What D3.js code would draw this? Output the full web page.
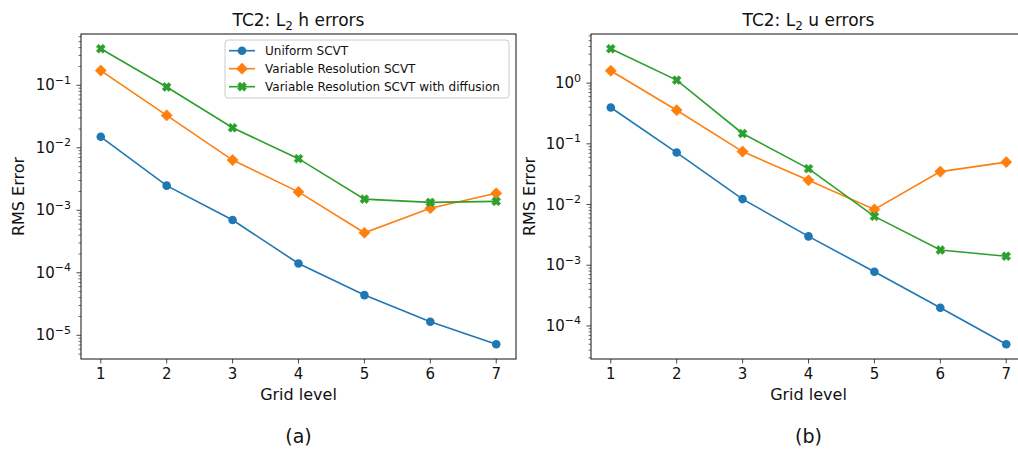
<!DOCTYPE html>
<html>
<head>
<meta charset="utf-8">
<script src="https://cdn.jsdelivr.net/npm/d3@7"></script>
<style>
  body { margin: 0; background: #fff; }
  svg { display: block; font-family: "DejaVu Sans", sans-serif; }
</style>
</head>
<body>
<script>
// grid levels on the x axis
var levels = [1, 2, 3, 4, 5, 6, 7];
var seriesNames = ['Uniform SCVT', 'Variable Resolution SCVT', 'Variable Resolution SCVT with diffusion'];
var colors = ['#1f77b4', '#ff7f0e', '#2ca02c'];

// TC2 L2 h errors
var hUniform = [0.0150, 0.00248, 0.00070, 0.000141, 0.0000440, 0.0000165, 0.0000072];
var hVariable = [0.172, 0.0330, 0.00636, 0.00197, 0.000437, 0.00108, 0.00187];
var hVariableDiff = [0.384, 0.094, 0.0209, 0.0067, 0.00151, 0.00134, 0.00139];

// TC2 L2 u errors
var uUniform = [0.397, 0.0718, 0.0123, 0.00299, 0.00078, 0.000200, 0.0000500];
var uVariable = [1.60, 0.358, 0.0746, 0.0251, 0.0083, 0.0349, 0.0500];
var uVariableDiff = [3.68, 1.12, 0.148, 0.039, 0.00638, 0.00178, 0.00141];

var yTicksH = [-5, -4, -3, -2, -1];
var yTicksU = [-4, -3, -2, -1, 0];

var svg = d3.select('body').append('svg')
  .attr('width', 1018)
  .attr('height', 452);

function markerPath(kind) {
  if (kind === 0) return null;
  if (kind === 1) return 'M0,-5.6L5.6,0L0,5.6L-5.6,0Z';
  // filled X
  var h = 4.6, t = 1.7, pts = [[t,h],[t,t],[h,t],[h,-t],[t,-t],[t,-h],[-t,-h],[-t,-t],[-h,-t],[-h,t],[-t,t],[-t,h]];
  return 'M' + pts.map(function(p) { return p.join(','); }).join('L') + 'Z';
}

function drawMarker(g, kind, color) {
  if (kind === 0) {
    g.append('circle').attr('r', 4.3).attr('fill', color);
  } else {
    g.append('path').attr('d', markerPath(kind)).attr('fill', color)
      .attr('stroke', color).attr('stroke-width', 0.6)
      .attr('transform', kind === 2 ? 'rotate(45)' : null);
  }
}

function panel(opts) {
  var x0 = opts.left, x1 = opts.left + 435, y0 = 34, y1 = 359;
  var all = [].concat.apply([], opts.series);
  var lo = Math.log10(d3.min(all)), hi = Math.log10(d3.max(all));
  var pad = (hi - lo) * 0.05;
  var x = d3.scaleLinear().domain([0.7, 7.3]).range([x0, x1]);
  var y = d3.scaleLog().domain([Math.pow(10, lo - pad), Math.pow(10, hi + pad)]).range([y1, y0]);

  var g = svg.append('g');

  // minor ticks
  var minors = [];
  for (var e = Math.floor(lo - pad); e <= Math.ceil(hi + pad); e++) {
    for (var m = 2; m < 10; m++) {
      var v = m * Math.pow(10, e);
      if (v >= y.domain()[0] && v <= y.domain()[1]) minors.push(v);
    }
  }
  g.selectAll('.minor').data(minors).enter().append('line')
    .attr('x1', x0 - 2.5).attr('x2', x0)
    .attr('y1', function(d) { return y(d); }).attr('y2', function(d) { return y(d); })
    .attr('stroke', '#333').attr('stroke-width', 0.7);

  // major y ticks
  var yt = g.selectAll('.ytick').data(opts.yTicks).enter().append('g')
    .attr('transform', function(d) { return 'translate(0,' + y(Math.pow(10, d)) + ')'; });
  yt.append('line').attr('x1', x0 - 4.5).attr('x2', x0).attr('stroke', '#333').attr('stroke-width', 0.9);
  var yl = yt.append('text').attr('x', x0 - 10).attr('y', 5).attr('text-anchor', 'end')
    .attr('font-size', 15).attr('fill', '#111');
  yl.append('tspan').text('10');
  yl.append('tspan').attr('dy', -6.5).attr('font-size', 11)
    .text(function(d) { return d < 0 ? '\u2212' + (-d) : String(d); });

  // x ticks
  var xt = g.selectAll('.xtick').data(levels).enter().append('g')
    .attr('transform', function(d) { return 'translate(' + x(d) + ',' + y1 + ')'; });
  xt.append('line').attr('y1', 0).attr('y2', 4.5).attr('stroke', '#333').attr('stroke-width', 0.9);
  xt.append('text').attr('y', 20).attr('text-anchor', 'middle').attr('font-size', 15)
    .attr('fill', '#111').text(function(d) { return d; });

  // series
  var line = d3.line().x(function(d, i) { return x(levels[i]); }).y(function(d) { return y(d); });
  opts.series.forEach(function(s, k) {
    g.append('path').attr('d', line(s)).attr('fill', 'none')
      .attr('stroke', colors[k]).attr('stroke-width', 1.6);
    s.forEach(function(v, i) {
      var mg = g.append('g').attr('transform', 'translate(' + x(levels[i]) + ',' + y(v) + ')');
      drawMarker(mg, k, colors[k]);
    });
  });

  // frame
  g.append('rect').attr('x', x0).attr('y', y0).attr('width', x1 - x0).attr('height', y1 - y0)
    .attr('fill', 'none').attr('stroke', '#111').attr('stroke-width', 1);

  // labels
  var title = g.append('text').attr('x', (x0 + x1) / 2 - opts.titleShift).attr('y', 26)
    .attr('text-anchor', 'middle').attr('font-size', 17).attr('fill', '#111');
  title.append('tspan').text('TC2: L');
  title.append('tspan').attr('dy', 4).attr('font-size', 12).text('2');
  title.append('tspan').attr('dy', -4).text(' ' + opts.var + ' errors');

  g.append('text').attr('x', x(4)).attr('y', 400).attr('text-anchor', 'middle')
    .attr('font-size', 16).attr('fill', '#111').text('Grid level');
  g.append('text').attr('transform', 'translate(' + opts.ylabelX + ',' + ((y0 + y1) / 2) + ') rotate(-90)')
    .attr('text-anchor', 'middle').attr('font-size', 16).attr('fill', '#111').text('RMS Error');
  g.append('text').attr('x', x(4)).attr('y', 443).attr('text-anchor', 'middle')
    .attr('font-size', 19).attr('fill', '#111').text(opts.tag);

  return { x: x, y: y };
}

panel({ left: 81, series: [hUniform, hVariable, hVariableDiff], yTicks: yTicksH,
  var: 'h', tag: '(a)', ylabelX: 24, titleShift: 0 });
panel({ left: 591, series: [uUniform, uVariable, uVariableDiff], yTicks: yTicksU,
  var: 'u', tag: '(b)', ylabelX: 535, titleShift: 0 });

// legend (left panel)
var lg = svg.append('g').attr('transform', 'translate(225,40)');
lg.append('rect').attr('width', 284).attr('height', 58).attr('rx', 3)
  .attr('fill', '#fff').attr('fill-opacity', 0.8).attr('stroke', '#ccc').attr('stroke-width', 1);
var rows = lg.selectAll('.row').data(seriesNames).enter().append('g')
  .attr('transform', function(d, i) { return 'translate(0,' + (10.7 + i * 18) + ')'; });
rows.append('line').attr('x1', 4).attr('x2', 30).attr('stroke', function(d, i) { return colors[i]; })
  .attr('stroke-width', 1.6);
rows.each(function(d, i) {
  var mg = d3.select(this).append('g').attr('transform', 'translate(17,0)');
  drawMarker(mg, i, colors[i]);
});
rows.append('text').attr('x', 40).attr('y', 4.3).attr('font-size', 12).attr('fill', '#111')
  .text(function(d) { return d; });
</script>
</body>
</html>
